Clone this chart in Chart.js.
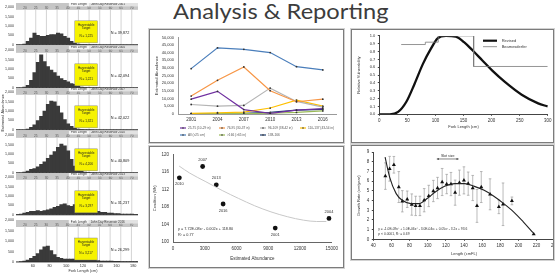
<!DOCTYPE html>
<html>
<head>
<meta charset="utf-8">
<script src="https://cdn.jsdelivr.net/npm/chart.js@4.4.1/dist/chart.umd.min.js"></script>
<style>
  html, body { margin: 0; padding: 0; background: #fff; }
  body { position: relative; width: 556px; height: 274px; overflow: hidden; }
  canvas { position: absolute; }
  .panel { position: absolute; box-sizing: border-box; border: 1px solid #7c7c7c; box-shadow: 0 0 0 1px #d2d2d2; }
  #title { position: absolute; left: 173px; top: -3px; font-family: Lato, "Open Sans", sans-serif; font-weight: 400; font-size: 22px; color: #3c3c3c; white-space: nowrap; transform-origin: 0 0; }
  #hist { position: absolute; left: 0; top: 0; width: 138px; height: 274px; overflow: hidden; }
  #growthWrap { position: absolute; left: 353px; top: 147px; width: 200px; height: 111px; overflow: hidden; }
</style>
</head>
<body>
<div id="title">Analysis &amp; Reporting</div>
<div class="panel" style="left:149px; top:29px; width:195px; height:114px"></div>
<div class="panel" style="left:149px; top:146px; width:195px; height:122px"></div>
<div class="panel" style="left:351px; top:29px; width:203px; height:114px"></div>
<div class="panel" style="left:351px; top:145px; width:203px; height:115px"></div>
<div id="hist"></div>
<canvas id="abundance" width="191" height="110" style="left:151px; top:31px"></canvas>
<canvas id="condition" width="191" height="118" style="left:151px; top:148px"></canvas>
<canvas id="vulnerability" width="201" height="110" style="left:353px; top:31px"></canvas>
<div id="growthWrap"><canvas id="growth" width="208" height="111" style="left:0; top:0"></canvas></div>

<script>
// ---- length-frequency histograms (4 cm bins, fish counts) ----
const binCenters = [42, 46, 50, 54, 58, 62, 66, 70, 74, 78, 82, 86, 90, 94, 98, 102, 106, 110, 114, 118,
                    122, 126, 130, 134, 138, 142, 146, 150, 154, 158, 162, 166, 170, 174, 178, 182, 186, 190, 194, 198];
const hist2001 = [0, 0, 45, 180, 360, 630, 500, 450, 450, 500, 540, 540, 630, 590, 450, 360, 180, 90, 45, 25,
                  25, 15, 10, 10, 5, 5, 5, 5, 0, 0, 0, 0, 0, 0, 0, 0, 0, 0, 0, 0];
const hist2004 = [0, 0, 45, 135, 405, 810, 1350, 1755, 1395, 1125, 945, 810, 630, 495, 405, 315, 225, 180, 90, 45,
                  25, 20, 15, 10, 10, 5, 5, 0, 0, 0, 0, 0, 0, 0, 0, 0, 0, 0, 0, 0];
const hist2007 = [0, 0, 0, 45, 135, 270, 495, 720, 990, 1350, 1530, 1485, 1260, 900, 540, 315, 180, 90, 45, 25,
                  15, 10, 10, 5, 5, 0, 0, 0, 0, 0, 0, 0, 0, 0, 0, 0, 0, 0, 0, 0];
const hist2010 = [0, 0, 45, 90, 180, 225, 315, 450, 585, 765, 945, 1125, 1350, 1530, 1440, 1170, 720, 360, 180, 90,
                  45, 25, 15, 10, 5, 5, 0, 0, 0, 0, 0, 0, 0, 0, 0, 0, 0, 0, 0, 0];
const hist2013 = [25, 45, 90, 135, 180, 180, 225, 180, 225, 270, 315, 405, 450, 540, 585, 495, 450, 540, 585, 495,
                  405, 315, 270, 225, 180, 135, 135, 90, 90, 70, 70, 45, 45, 45, 35, 25, 25, 20, 15, 15];
const hist2016 = [0, 25, 45, 90, 180, 270, 405, 585, 720, 765, 540, 360, 225, 180, 135, 135, 135, 135, 180, 135,
                  135, 90, 90, 90, 70, 45, 45, 45, 45, 35, 35, 25, 25, 25, 20, 20, 15, 15, 10, 10];
const surveyYears = ["2001", "2004", "2007", "2010", "2013", "2016"];
const histTotals = ["N = 39,872", "N = 42,094", "N = 42,022", "N = 40,809", "N = 31,237", "N = 26,299"];
const slotTotals = ["N = 1,225", "N = 1,221", "N = 1,321", "N = 4,206", "N = 3,297", "N = 3,217"];
const headerInches = [20, 25, 30, 35, 40, 45, 50, 55, 60, 65, 70, 75];
const slotRange = [110, 137];

// ---- abundance by size class ----
const sizeClasses = ["25-75 (10-29 in)", "76-95 (30-37 in)", "96-109 (38-42 in)", "110-137 (43-54 in)",
                     "All (>25 cm)", ">166 (>65 in)", "138-166"];
const abund25to75 = [9700, 14800, 2900, 400, 2500, 3500];
const abund76to95 = [11700, 22000, 30700, 15200, 8000, 9700];
const abund96to109 = [6200, 5100, 5600, 16900, 8200, 4500];
const abund110to137 = [400, 800, 1200, 3900, 9100, 5100];
const abundAll = [29600, 43200, 42200, 40100, 30900, 28800];
const abundOver166 = [100, 200, 300, 500, 1000, 2000];
const abund138to166 = [200, 300, 500, 1000, 2500, 3000];

// ---- condition vs abundance ----
const condAbund = [9660, 14740, 2800, 600, 4090, 4735];
const condWr = [103.2, 105.4, 117.3, 114.7, 113.1, 108.7];
const condTrendX = [580, 1570, 3110, 4650, 6180, 7720, 9260, 10800, 12340, 13570, 14490];
const condTrendY = [117.4, 115.8, 113.8, 111.8, 110.0, 108.3, 106.9, 105.8, 105.0, 104.7, 104.7];

// ---- relative vulnerability ----
const vulnLen = [0, 18.8, 33.5, 48.2, 62.9, 77.5, 92.2, 103.9, 118.6, 136.2, 150.9, 165.5, 183.2, 200.8, 224.2, 253.6, 282.9, 300];
const vulnRevised = [0, 0, 0.03, 0.16, 0.39, 0.64, 0.84, 0.97, 1.0, 0.99, 0.92, 0.82, 0.69, 0.56, 0.41, 0.25, 0.14, 0.10];
const stepLen = [39, 82, 82, 105, 105, 168, 168, 300];
const stepVuln = [0.89, 0.89, 0.92, 0.92, 1.0, 1.0, 0.61, 0.61];

// ---- growth rate vs length ----
const growthLen = [53.3, 58.0, 62.7, 68.1, 72.0, 77.4, 82.4, 86.7, 91.4, 96.1, 101.1, 106.2, 110.8, 115.9, 120.9,
                   125.6, 130.2, 134.9, 139.9, 144.6, 149.6, 154.3, 159.0, 168.7, 178.4, 183.0, 192.8, 216.8];
const growthRate = [6.53, 7.29, 7.70, 5.40, 3.93, 4.14, 3.59, 3.45, 3.45, 4.04, 4.48, 4.99, 5.30, 5.92, 5.71,
                    5.71, 4.82, 5.85, 6.09, 5.75, 5.30, 3.45, 5.40, 4.65, 3.35, 3.62, 3.97, 0.54];
const growthErr = [1.37, 1.28, 0.86, 1.6, 1.1, 0.85, 1.1, 1.0, 1.0, 1.2, 1.1, 1.1, 1.1, 1.4, 1.0,
                   1.2, 1.3, 1.3, 1.4, 1.2, 1.3, 1.7, 1.6, 1.6, 0.7, 2.2, 0.4, 0];
const growthFitLen = [53, 58, 65.2, 72, 81.4, 90.4, 99.3, 108.3, 118.6, 129.9, 140.8, 151.4, 162.2, 172.9, 183.8, 194.6, 205.3, 216.1];
const growthFit = [8.48, 6.43, 4.72, 4.03, 3.69, 3.69, 4.21, 4.89, 5.47, 5.75, 5.75, 5.47, 5.06, 4.45, 3.69, 2.84, 1.81, 0.68];
const slotArrow = [110, 134];

Chart.defaults.font.family = "'Liberation Sans', Arial, sans-serif";
Chart.defaults.font.size = 4.5;
Chart.defaults.color = "#333";
Chart.defaults.animation = false;
Chart.defaults.responsive = false;
Chart.defaults.events = [];
Chart.defaults.plugins.legend.display = false;
Chart.defaults.plugins.tooltip.enabled = false;

const FONT = "'Liberation Sans', Arial, sans-serif";
const toPoints = (xs, ys) => xs.map((x, i) => ({ x: x, y: ys[i] }));
const noGrid = { display: false, drawTicks: false };

function hline(ctx, x1, x2, y) { ctx.beginPath(); ctx.moveTo(x1, y); ctx.lineTo(x2, y); ctx.stroke(); }
function vline(ctx, x, y1, y2) { ctx.beginPath(); ctx.moveTo(x, y1); ctx.lineTo(x, y2); ctx.stroke(); }

// --- histogram panels ---
const histDecor = {
    id: "histDecor",
    beforeDatasetsDraw(chart) {
        const { ctx, chartArea: a, scales: { x } } = chart;
        ctx.save();
        ctx.strokeStyle = "#c2c2c2";
        ctx.lineWidth = 0.7;
        headerInches.forEach(inch => vline(ctx, x.getPixelForValue(inch * 2.54), a.top, a.bottom));
        ctx.restore();
    },
    afterDatasetsDraw(chart, args, opts) {
        const { ctx, chartArea: a, scales: { x } } = chart;
        const k = opts.panel;
        const b = a.bottom;
        ctx.save();
        ctx.strokeStyle = "#222";
        ctx.lineWidth = 0.8;
        hline(ctx, a.left, a.right, b);

        // header band with inch ticks and panel title
        ctx.fillStyle = "#c6c6c6";
        ctx.fillRect(a.left, b - 42, a.right - a.left, 7);
        ctx.fillStyle = "#555";
        ctx.font = `3.2px ${FONT}`;
        ctx.textAlign = "center";
        ctx.textBaseline = "middle";
        headerInches.forEach(inch => ctx.fillText(String(inch), x.getPixelForValue(inch * 2.54), b - 37));
        const x1 = x.getPixelForValue(103), x2 = x.getPixelForValue(127);
        ctx.fillStyle = "#f4f4f4";
        ctx.fillRect(x1, b - 42, x2 - x1, 3.6);
        ctx.fillStyle = "#e2e2e2";
        ctx.fillRect(x2, b - 42, a.right - x2, 3.6);
        ctx.fillStyle = "#333";
        ctx.font = `3px ${FONT}`;
        ctx.fillText("Fork Length", (x1 + x2) / 2, b - 40.2);
        ctx.textAlign = "left";
        ctx.fillText("John Day Reservoir " + surveyYears[k], x2 + 2, b - 40.2);

        // harvest slot box
        const s1 = x.getPixelForValue(slotRange[0]), s2 = x.getPixelForValue(slotRange[1]);
        ctx.fillStyle = "#f6f200";
        ctx.fillRect(s1, b - 24, s2 - s1, 22);
        ctx.strokeStyle = "#777";
        ctx.lineWidth = 0.4;
        ctx.strokeRect(s1, b - 24, s2 - s1, 22);
        ctx.fillStyle = "#222";
        ctx.textAlign = "center";
        ctx.font = `3.1px ${FONT}`;
        ctx.fillText("Harvestable", (s1 + s2) / 2, b - 20);
        ctx.fillText("Target", (s1 + s2) / 2, b - 16.4);
        ctx.fillText(slotTotals[k], (s1 + s2) / 2, b - 9);

        ctx.font = `3.8px ${FONT}`;
        ctx.fillText(histTotals[k], 120, b - 12);

        if (k === 2) {
            ctx.translate(3, b - 17);
            ctx.rotate(-Math.PI / 2);
            ctx.font = `3.8px ${FONT}`;
            ctx.fillText("Estimated Abundance", 0, 0);
        }
        ctx.restore();
    }
};

const histSeries = [hist2001, hist2004, hist2007, hist2010, hist2013, hist2016];
histSeries.forEach((series, k) => {
    const last = k === histSeries.length - 1;
    const cv = document.createElement("canvas");
    cv.width = 152;
    cv.height = last ? 58 : 46;
    cv.style.left = "0px";
    cv.style.top = (3 + k * 42.6) + "px";
    document.getElementById("hist").appendChild(cv);

    new Chart(cv, {
        type: "bar",
        data: {
            datasets: [{
                data: toPoints(binCenters, series),
                backgroundColor: "#3a3a3a",
                borderWidth: 0,
                barPercentage: 1,
                categoryPercentage: 1,
            }]
        },
        options: {
            layout: { padding: { top: 2, right: 1.6, bottom: 0, left: 0 } },
            plugins: { histDecor: { panel: k } },
            scales: {
                x: {
                    type: "linear",
                    min: 40,
                    max: 200,
                    offset: false,
                    display: last,
                    grid: noGrid,
                    border: { display: false },
                    ticks: {
                        stepSize: 20,
                        autoSkip: false,
                        maxRotation: 0,
                        padding: 2,
                        font: { size: 3.8 },
                        callback: v => (v === 40 || v === 200) ? "" : v,
                    },
                    title: { display: true, text: "Fork Length (cm)", font: { size: 3.8 }, padding: { top: 0, bottom: 1.2 } },
                    afterFit: s => { s.height = last ? 12 : 0; },
                },
                y: {
                    min: 0,
                    max: 2000,
                    grid: noGrid,
                    border: { display: false },
                    ticks: { stepSize: 500, autoSkip: false, padding: 2, font: { size: 3.6 } },
                    afterFit: s => { s.width = 16; },
                }
            }
        },
        plugins: [histDecor],
    });
});

// --- abundance by size class ---
const classSeries = [abund25to75, abund76to95, abund96to109, abund110to137, abundAll, abundOver166, abund138to166];
const classColors = ["#7030a0", "#f79646", "#b4b4b4", "#ffc000", "#4a7ebb", "#9bbb59", "#1f3f6e"];

const classLegend = {
    id: "classLegend",
    afterDraw(chart) {
        const { ctx } = chart;
        const cols = [29, 68, 109, 149];
        const rows = [97, 104];
        ctx.save();
        ctx.font = `3.2px ${FONT}`;
        ctx.textBaseline = "middle";
        chart.data.datasets.forEach((ds, i) => {
            const x = cols[i % 4], y = rows[Math.floor(i / 4)];
            ctx.strokeStyle = ds.borderColor;
            ctx.lineWidth = 1.2;
            hline(ctx, x, x + 6, y);
            ctx.fillStyle = "#333";
            ctx.beginPath();
            ctx.arc(x + 3, y, 0.8, 0, Math.PI * 2);
            ctx.fill();
            ctx.fillStyle = "#555";
            ctx.fillText(ds.label, x + 8, y);
        });
        ctx.restore();
    }
};

new Chart(document.getElementById("abundance"), {
    type: "line",
    data: {
        labels: surveyYears,
        datasets: classSeries.map((d, i) => ({
            label: sizeClasses[i],
            data: d,
            borderColor: classColors[i],
            backgroundColor: classColors[i],
            borderWidth: 1.2,
            pointRadius: 0.9,
            pointBorderWidth: 0,
            pointBackgroundColor: "#333",
            tension: 0,
        }))
    },
    options: {
        layout: { padding: { top: 2, right: 6, bottom: 0, left: 0 } },
        scales: {
            x: {
                offset: true,
                grid: noGrid,
                border: { color: "#9a9a9a" },
                ticks: { padding: 3 },
                afterFit: s => { s.height = 27; },
            },
            y: {
                min: 0,
                max: 50000,
                grid: noGrid,
                border: { color: "#9a9a9a" },
                ticks: { stepSize: 5000, autoSkip: false, padding: 4, font: { size: 4 }, callback: v => v.toLocaleString("en-US") },
                title: { display: true, text: "Estimated Abundance", font: { size: 4 }, padding: { top: 3.3, bottom: 0 } },
                afterFit: s => { s.width = 27; },
            }
        }
    },
    plugins: [classLegend],
});

// --- condition vs abundance ---
const belowLabels = ["2010", "2016", "2001"];
const conditionText = {
    id: "conditionText",
    afterDatasetsDraw(chart) {
        const { ctx, chartArea: a } = chart;
        const meta = chart.getDatasetMeta(1);
        ctx.save();
        ctx.fillStyle = "#333";
        ctx.font = `4px ${FONT}`;
        ctx.textAlign = "center";
        ctx.textBaseline = "middle";
        meta.data.forEach((pt, i) => {
            const yr = surveyYears[i];
            ctx.fillText(yr, pt.x, pt.y + (belowLabels.includes(yr) ? 6.5 : -6.5));
        });
        ctx.textAlign = "left";
        ctx.font = `3.8px ${FONT}`;
        ctx.fillText("y = 7.72E-08x\u00B2 - 0.002x + 118.80", a.left + 5, a.bottom - 13);
        ctx.fillText("R\u00B2 = 0.77", a.left + 5, a.bottom - 7);
        ctx.restore();
    }
};

new Chart(document.getElementById("condition"), {
    type: "scatter",
    data: {
        datasets: [
            {
                data: toPoints(condTrendX, condTrendY),
                showLine: true,
                borderColor: "#c8c8c8",
                borderWidth: 1,
                pointRadius: 0,
                cubicInterpolationMode: "monotone",
            },
            {
                data: toPoints(condAbund, condWr),
                pointRadius: 2.4,
                backgroundColor: "#111",
                borderWidth: 0,
            }
        ]
    },
    options: {
        layout: { padding: { top: 4, right: 7, bottom: 0, left: 0 } },
        scales: {
            x: {
                type: "linear",
                min: 0,
                max: 15000,
                grid: noGrid,
                border: { color: "#666" },
                ticks: { stepSize: 3000, padding: 4, callback: v => String(v) },
                title: { display: true, text: "Estimated Abundance", font: { size: 4.5 }, padding: { top: 0, bottom: 4.3 } },
                afterFit: s => { s.height = 24; },
            },
            y: {
                min: 100,
                max: 120,
                grid: noGrid,
                border: { color: "#666" },
                ticks: { stepSize: 4, autoSkip: false, padding: 4 },
                title: { display: true, text: "Condition (Wr)", font: { size: 4 }, padding: { top: 1.3, bottom: 0 } },
                afterFit: s => { s.width = 22; },
            }
        }
    },
    plugins: [conditionText],
});

// --- relative vulnerability ---
const vulnLegend = {
    id: "vulnLegend",
    afterDraw(chart) {
        const { ctx } = chart;
        ctx.save();
        ctx.strokeStyle = "#111";
        ctx.lineWidth = 2.2;
        hline(ctx, 130, 144, 9.7);
        ctx.strokeStyle = "#777";
        ctx.lineWidth = 0.8;
        hline(ctx, 130, 144, 15.7);
        ctx.fillStyle = "#333";
        ctx.font = `4px ${FONT}`;
        ctx.textBaseline = "middle";
        ctx.fillText("Revised", 148.7, 9.7);
        ctx.fillText("Beamesderfer", 148.7, 15.7);
        ctx.restore();
    }
};

new Chart(document.getElementById("vulnerability"), {
    type: "scatter",
    data: {
        datasets: [
            {
                data: toPoints(stepLen, stepVuln),
                showLine: true,
                borderColor: "#7a7a7a",
                borderWidth: 0.8,
                pointRadius: 0,
            },
            {
                data: toPoints(vulnLen, vulnRevised),
                showLine: true,
                borderColor: "#111",
                borderWidth: 2.3,
                pointRadius: 0,
                cubicInterpolationMode: "monotone",
            }
        ]
    },
    options: {
        layout: { padding: { top: 3, right: 2, bottom: 0, left: 0 } },
        scales: {
            x: {
                type: "linear",
                min: 0,
                max: 300,
                grid: { display: true, drawOnChartArea: false, tickLength: 1.5, color: "#444" },
                border: { color: "#444" },
                ticks: { stepSize: 50, padding: 2.5 },
                title: { display: true, text: "Fork Length (cm)", font: { size: 4 }, padding: { top: 0, bottom: 11.6 } },
                afterFit: s => { s.height = 26.7; },
            },
            y: {
                min: 0,
                max: 1,
                grid: { display: true, drawOnChartArea: false, tickLength: 1.5, color: "#444" },
                border: { color: "#444" },
                ticks: { stepSize: 0.1, autoSkip: false, padding: 2.5, font: { size: 4 }, callback: v => v.toFixed(1) },
                title: { display: true, text: "Relative Vulnerability", font: { size: 4 }, padding: { top: 3.3, bottom: 0 } },
                afterFit: s => { s.width = 26.3; },
            }
        }
    },
    plugins: [vulnLegend],
});

// --- growth rate vs length ---
const growthExtras = {
    id: "growthExtras",
    beforeDatasetsDraw(chart) {
        const { ctx, scales: { x, y } } = chart;
        ctx.save();
        ctx.strokeStyle = "#9c9c9c";
        ctx.lineWidth = 0.7;
        growthLen.forEach((len, i) => {
            const e = growthErr[i];
            if (!e) return;
            const px = x.getPixelForValue(len);
            const yTop = y.getPixelForValue(growthRate[i] + e);
            const yBot = y.getPixelForValue(growthRate[i] - e);
            vline(ctx, px, yTop, yBot);
            hline(ctx, px - 1.3, px + 1.3, yTop);
            hline(ctx, px - 1.3, px + 1.3, yBot);
        });
        ctx.restore();
    },
    afterDraw(chart) {
        const { ctx, chartArea: a, scales: { x, y } } = chart;
        ctx.save();
        const ax1 = x.getPixelForValue(slotArrow[0]), ax2 = x.getPixelForValue(slotArrow[1]);
        const ay = y.getPixelForValue(8.3);
        ctx.strokeStyle = "#333";
        ctx.fillStyle = "#333";
        ctx.lineWidth = 0.6;
        hline(ctx, ax1, ax2, ay);
        [[ax1, 1], [ax2, -1]].forEach(([px, d]) => {
            ctx.beginPath();
            ctx.moveTo(px, ay);
            ctx.lineTo(px + d * 2, ay - 1);
            ctx.lineTo(px + d * 2, ay + 1);
            ctx.closePath();
            ctx.fill();
        });
        ctx.font = `3.6px ${FONT}`;
        ctx.textAlign = "center";
        ctx.textBaseline = "middle";
        ctx.fillText("Slot size", (ax1 + ax2) / 2, ay - 3);
        ctx.textAlign = "left";
        ctx.font = `3.3px ${FONT}`;
        ctx.fillText("y = -1.0E-09x\u2075 + 1.0E-06x\u2074 - 3.0E-04x\u00B3 + 0.05x\u00B2 - 3.2x + 93.6", a.left + 5, a.bottom - 10);
        ctx.fillText("p < 0.0001, R\u00B2 = 0.69", a.left + 5, a.bottom - 5);
        ctx.restore();
    }
};

new Chart(document.getElementById("growth"), {
    type: "scatter",
    data: {
        datasets: [
            {
                data: toPoints(growthFitLen, growthFit),
                showLine: true,
                borderColor: "#222",
                borderWidth: 1.1,
                pointRadius: 0,
                cubicInterpolationMode: "monotone",
            },
            {
                data: toPoints(growthLen, growthRate),
                pointStyle: "triangle",
                pointRadius: 2.3,
                backgroundColor: "#111",
                borderWidth: 0,
            }
        ]
    },
    options: {
        layout: { padding: { top: 4.7, right: 2.2, bottom: 0, left: 0 } },
        scales: {
            x: {
                type: "linear",
                min: 40,
                max: 240,
                grid: { display: true, drawOnChartArea: false, tickLength: 1.5, color: "#444" },
                border: { color: "#444" },
                ticks: { stepSize: 20, padding: 2.5, autoSkip: false, maxRotation: 0 },
                title: { display: true, text: "Length (cmFL)", font: { size: 4 }, padding: { top: 0, bottom: 2 } },
                afterFit: s => { s.height = 18.7; },
            },
            y: {
                min: 0,
                max: 9,
                grid: { display: true, drawOnChartArea: false, tickLength: 1.5, color: "#444" },
                border: { color: "#444" },
                ticks: { stepSize: 1, autoSkip: false, padding: 2.5 },
                title: { display: true, text: "Growth Rate (cm/year)", font: { size: 4 }, padding: { top: 3.3, bottom: 0 } },
                afterFit: s => { s.width = 20.3; },
            }
        }
    },
    plugins: [growthExtras],
});

// fit the slide title to its width in the reference
const titleEl = document.getElementById("title");
const fitTitle = () => {
    titleEl.style.transform = `scaleX(${215 / titleEl.offsetWidth})`;
};
fitTitle();
if (document.fonts) document.fonts.ready.then(fitTitle);
</script>
</body>
</html>
